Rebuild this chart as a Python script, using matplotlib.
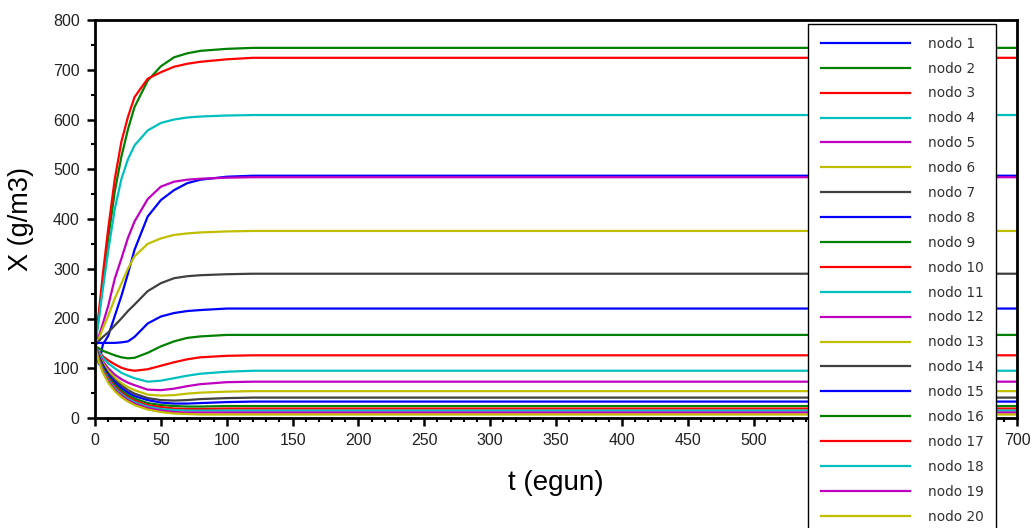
import matplotlib
matplotlib.use("Agg")
import matplotlib.pyplot as plt
from matplotlib.ticker import MultipleLocator

plt.rcParams['font.family'] = ['Liberation Sans', 'DejaVu Sans']

t = [0, 3, 6, 10, 15, 20, 25, 30, 40, 50, 60, 70, 80, 100, 120, 700]

nodo1 = [140, 108, 148, 165, 205, 245, 290, 338, 405, 438, 458, 472, 479, 485, 487, 487]
nodo2 = [145, 205, 275, 360, 455, 525, 580, 625, 678, 707, 725, 733, 738, 742, 744, 744]
nodo3 = [145, 215, 290, 380, 480, 555, 605, 645, 682, 695, 706, 712, 716, 721, 724, 724]
nodo4 = [145, 200, 260, 335, 420, 480, 520, 548, 578, 593, 600, 604, 606, 608, 609, 609]
nodo5 = [145, 165, 190, 225, 280, 320, 362, 395, 440, 465, 475, 479, 481, 483, 484, 484]
nodo6 = [145, 160, 180, 205, 240, 270, 300, 325, 350, 361, 368, 371, 373, 375, 376, 376]
nodo7 = [145, 155, 163, 172, 186, 200, 215, 228, 255, 271, 281, 285, 287, 289, 290, 290]
nodo8 = [150, 151, 151, 151, 151, 152, 154, 163, 190, 204, 211, 215, 217, 220, 220, 220]
nodo9 = [145, 140, 135, 131, 126, 122, 120, 121, 131, 144, 154, 161, 164, 167, 167, 167]
nodo10 = [145, 133, 124, 116, 108, 101, 97, 95, 98, 105, 112, 118, 122, 125, 126, 126]
nodo11 = [145, 132, 121, 110, 100, 91, 85, 80, 73, 75, 80, 85, 89, 93, 95, 95]
nodo12 = [145, 128, 114, 100, 87, 78, 71, 66, 57, 56, 59, 64, 68, 72, 73, 73]
nodo13 = [145, 126, 110, 95, 81, 70, 62, 56, 47, 45, 46, 49, 51, 53, 54, 54]
nodo14 = [145, 124, 107, 90, 76, 65, 56, 49, 40, 36, 35, 36, 38, 40, 41, 41]
nodo15 = [145, 122, 104, 87, 72, 60, 51, 44, 36, 31, 29, 29, 30, 32, 33, 33]
nodo16 = [145, 120, 101, 83, 67, 55, 46, 39, 30, 26, 24, 23, 23, 24, 24, 24]
nodo17 = [145, 118, 98, 80, 63, 51, 42, 35, 26, 22, 19, 18, 18, 19, 19, 19]
nodo18 = [145, 116, 96, 77, 60, 48, 39, 32, 23, 18, 16, 15, 15, 15, 15, 15]
nodo19 = [145, 114, 93, 74, 57, 45, 36, 29, 20, 15, 12, 11, 11, 11, 11, 11]
nodo20 = [145, 112, 91, 71, 54, 42, 33, 26, 17, 12, 9, 8, 7, 7, 7, 7]

series = [nodo1, nodo2, nodo3, nodo4, nodo5, nodo6, nodo7, nodo8, nodo9, nodo10,
          nodo11, nodo12, nodo13, nodo14, nodo15, nodo16, nodo17, nodo18, nodo19, nodo20]
labels = ["nodo %d" % (i + 1) for i in range(20)]

palette = ['#0000ff', '#008000', '#ff0000', '#00bfbf', '#bf00bf', '#bfbf00', '#404040']

fig = plt.figure(figsize=(10.33, 5.28), dpi=100)
ax = fig.add_axes([95 / 1033, 1 - 418 / 528, (1017 - 95) / 1033, (418 - 20) / 528])

for i, (y, lab) in enumerate(zip(series, labels)):
    ax.plot(t, y, color=palette[i % 7], lw=1.6, label=lab)

ax.set_xlim(0, 700)
ax.set_ylim(0, 800)
ax.xaxis.set_major_locator(MultipleLocator(50))
ax.xaxis.set_minor_locator(MultipleLocator(10))
ax.yaxis.set_major_locator(MultipleLocator(100))
ax.yaxis.set_minor_locator(MultipleLocator(50))
ax.tick_params(which='major', direction='out', length=6, width=1.8, labelsize=11.5,
               labelcolor='#222222', pad=5)
ax.tick_params(which='minor', direction='out', length=3, width=1.5)
for s in ax.spines.values():
    s.set_linewidth(2.0)

ax.set_xlabel("t (egun)", fontsize=20, labelpad=16)
ax.set_ylabel("X (g/m3)", fontsize=19.5, labelpad=14)

leg = fig.legend(loc='upper left', bbox_to_anchor=(808 / 1033, 1 - 24 / 528),
                 bbox_transform=fig.transFigure, borderaxespad=0,
                 prop={'family': 'DejaVu Sans', 'size': 9.8},
                 handlelength=6.6, handletextpad=1.25,
                 labelspacing=0.80, borderpad=0.93, fancybox=False, framealpha=1)
leg.get_frame().set_edgecolor('black')
leg.get_frame().set_linewidth(1.0)
for txt in leg.get_texts():
    txt.set_color('#333333')

fig.savefig("out.png", dpi=100)
